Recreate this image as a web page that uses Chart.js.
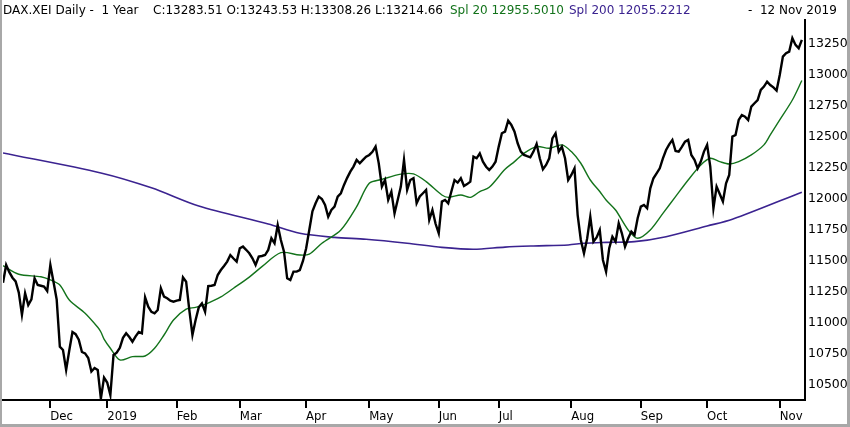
<!DOCTYPE html>
<html>
<head>
<meta charset="utf-8">
<title>DAX.XEI Daily - 1 Year</title>
<script src="https://cdn.jsdelivr.net/npm/chart.js@4.4.1/dist/chart.umd.min.js"></script>
<style>
  html, body { margin: 0; padding: 0; background: #fff; }
  #wrap { position: relative; width: 850px; height: 427px; overflow: hidden; background: #fff; }
  #wrap canvas { position: absolute; left: 0; top: 0; }
  .hd { position: absolute; top: 3px; font: 12px 'DejaVu Sans', sans-serif; line-height: 14px; white-space: pre; color: #000; }
  #frame { position: absolute; left: 0; top: 0; right: 0; bottom: 0; border-left: 2px solid #a8a8a8; border-right: 3px solid #a8a8a8; border-bottom: 3px solid #a8a8a8; pointer-events: none; }
</style>
</head>
<body>
<div id="wrap">
  <canvas id="daxChart" width="850" height="427"></canvas>
  <span class="hd" style="left:3px">DAX.XEI Daily -  1 Year</span>
  <span class="hd" style="left:153px">C:13283.51 O:13243.53 H:13308.26 L:13214.66</span>
  <span class="hd" style="left:450px; color:#13731b">Spl 20 12955.5010</span>
  <span class="hd" style="left:569px; color:#3b2390">Spl 200 12055.2212</span>
  <span class="hd" style="left:748px">-  12 Nov 2019</span>
  <div id="frame"></div>
</div>
<script>
// daily closes, one array per month (Nov 2018 starts on the 12th)
const nov18 = [11325, 11468, 11410, 11365, 11335, 11245, 11065, 11240, 11145, 11190, 11360, 11306, 11300, 11293, 11258];
const dec18 = [11468, 11330, 11190, 10809, 10782, 10621, 10780, 10927, 10910, 10865, 10766, 10755, 10718, 10609, 10637, 10621, 10390, 10560];
const jan19 = [10520, 10419, 10742, 10760, 10800, 10880, 10917, 10887, 10849, 10892, 10927, 10917, 11207, 11131, 11090, 11078, 11105, 11280, 11213, 11199, 11180, 11172];
const feb19 = [11180, 11185, 11368, 11333, 11105, 10903, 11024, 11126, 11158, 11091, 11298, 11300, 11306, 11387, 11427, 11460, 11495, 11548, 11520, 11495];
const mar19 = [11603, 11616, 11590, 11562, 11522, 11468, 11535, 11540, 11548, 11589, 11683, 11643, 11790, 11669, 11575, 11360, 11347, 11414, 11414, 11427, 11500];
const apr19 = [11600, 11750, 11900, 11965, 12019, 12000, 11952, 11857, 11911, 11938, 12019, 12046, 12113, 12170, 12220, 12261, 12315, 12288, 12315, 12341];
const may19 = [12355, 12380, 12422, 12288, 12100, 12153, 11992, 12059, 11884, 11992, 12100, 12315, 12073, 12153, 12167, 11965, 12020, 12046, 12073, 11831, 11911, 11800];
const jun19 = [11723, 11979, 11992, 11965, 12060, 12153, 12132, 12167, 12105, 12120, 12140, 12341, 12328, 12368, 12301, 12260, 12234, 12261, 12300];
const jul19 = [12422, 12530, 12543, 12632, 12597, 12543, 12449, 12382, 12355, 12345, 12336, 12382, 12444, 12328, 12239, 12274, 12328, 12489, 12530, 12382, 12422, 12328, 12153];
const aug19 = [12194, 12247, 11870, 11669, 11562, 11680, 11857, 11656, 11690, 11750, 11508, 11414, 11603, 11696, 11656, 11804, 11723, 11616, 11683, 11737, 11710, 11844];
const sep19 = [11938, 11952, 11925, 12086, 12167, 12207, 12247, 12328, 12395, 12440, 12476, 12387, 12382, 12420, 12462, 12476, 12355, 12315, 12247, 12301, 12382];
const oct19 = [12436, 12261, 11925, 12100, 12040, 11979, 12126, 12194, 12503, 12516, 12637, 12677, 12664, 12637, 12745, 12772, 12798, 12879, 12906, 12946, 12919, 12900, 12874];
const nov19 = [13000, 13148, 13175, 13188, 13296, 13242, 13215, 13283];

const months = [nov18, dec18, jan19, feb19, mar19, apr19, may19, jun19, jul19, aug19, sep19, oct19, nov19];
const monthLabels = ['Dec', '2019', 'Feb', 'Mar', 'Apr', 'May', 'Jun', 'Jul', 'Aug', 'Sep', 'Oct', 'Nov'];

// 20 day average (green) at these day numbers
const sma20Idx = [0, 5, 12, 15, 18, 21, 26, 30, 31, 32, 34, 37, 41, 45, 48, 51, 54, 58, 61, 64, 69, 73, 78, 82, 88, 94, 97, 101, 107, 112, 116, 120, 126, 130, 134, 139, 141, 145, 148, 151, 154, 159, 162, 165, 169, 173, 177, 180, 183, 186, 189, 191, 194, 198, 201, 205, 209, 213, 217, 221, 224, 227, 230, 233, 237, 241, 243, 246, 250, 253];
const sma20Val = [11462, 11393, 11373, 11347, 11306, 11185, 11078, 10965, 10927, 10870, 10796, 10702, 10729, 10734, 10796, 10903, 11024, 11111, 11126, 11150, 11210, 11280, 11370, 11454, 11567, 11548, 11555, 11643, 11750, 11938, 12126, 12158, 12200, 12202, 12140, 12032, 12013, 12032, 12013, 12059, 12094, 12239, 12301, 12368, 12422, 12409, 12436, 12382, 12288, 12153, 12060, 11992, 11911, 11750, 11683, 11750, 11884, 12019, 12153, 12274, 12328, 12301, 12282, 12301, 12355, 12436, 12516, 12637, 12798, 12955];

// 200 day average (purple)
const sma200Idx = [0, 31, 47, 62, 84, 94, 105, 115, 128, 139, 149, 159, 168, 179, 184, 191, 200, 210, 223, 231, 253];
const sma200Val = [12371, 12210, 12090, 11943, 11798, 11723, 11690, 11675, 11643, 11610, 11594, 11612, 11621, 11629, 11643, 11650, 11656, 11696, 11782, 11836, 12055];

const yTicks = [10500, 10750, 11000, 11250, 11500, 11750, 12000, 12250, 12500, 12750, 13000, 13250];

// day number of first session in each month -> tick positions
const closes = [].concat(...months);
const monthStart = [];
let n = 0;
months.forEach((m, i) => { if (i > 0) monthStart.push(n); n += m.length; });

const ctx = document.getElementById('daxChart');
new Chart(ctx, {
  type: 'line',
  data: {
    datasets: [
      {
        label: 'DAX',
        data: closes.map((v, i) => ({ x: i, y: v })),
        borderColor: '#000',
        borderWidth: 2.4,
        pointRadius: 0,
        tension: 0,
      },
      {
        label: 'Spl 20',
        data: sma20Idx.map((d, i) => ({ x: d, y: sma20Val[i] })),
        borderColor: '#13731b',
        borderWidth: 1.4,
        pointRadius: 0,
        tension: 0.3,
      },
      {
        label: 'Spl 200',
        data: sma200Idx.map((d, i) => ({ x: d, y: sma200Val[i] })),
        borderColor: '#3b2390',
        borderWidth: 1.6,
        pointRadius: 0,
        tension: 0.3,
      },
    ],
  },
  options: {
    responsive: false,
    animation: false,
    layout: { padding: { left: 3, top: 20, right: 0, bottom: 0 } },
    plugins: { legend: { display: false }, tooltip: { enabled: false } },
    scales: {
      x: {
        type: 'linear',
        position: 'bottom',
        min: 0,
        max: 254,
        afterBuildTicks: (axis) => { axis.ticks = monthStart.map(v => ({ value: v })); },
        afterFit: (axis) => { axis.height = 27; },
        grid: { display: true, drawOnChartArea: false, drawTicks: true, tickLength: 8, color: '#000', lineWidth: 2 },
        border: { display: true, color: '#000', width: 2 },
        ticks: {
          autoSkip: false,
          maxRotation: 0,
          align: 'start',
          padding: 1,
          color: '#000',
          font: { family: "'Liberation Sans Narrow', 'DejaVu Sans Condensed', 'Liberation Sans', sans-serif", size: 13 },
          callback: (v) => monthLabels[monthStart.indexOf(v)],
        },
      },
      y: {
        position: 'right',
        min: 10379,
        max: 13443,
        afterBuildTicks: (axis) => { axis.ticks = yTicks.map(v => ({ value: v })); },
        afterFit: (axis) => { axis.width = 45; },
        grid: { display: false, drawTicks: false, tickLength: 0 },
        border: { display: true, color: '#000', width: 2 },
        ticks: {
          padding: 3,
          color: '#000',
          font: { family: "'DejaVu Sans', sans-serif", size: 12.5 },
          callback: (v) => String(v),
        },
      },
    },
  },
});
</script>
</body>
</html>
